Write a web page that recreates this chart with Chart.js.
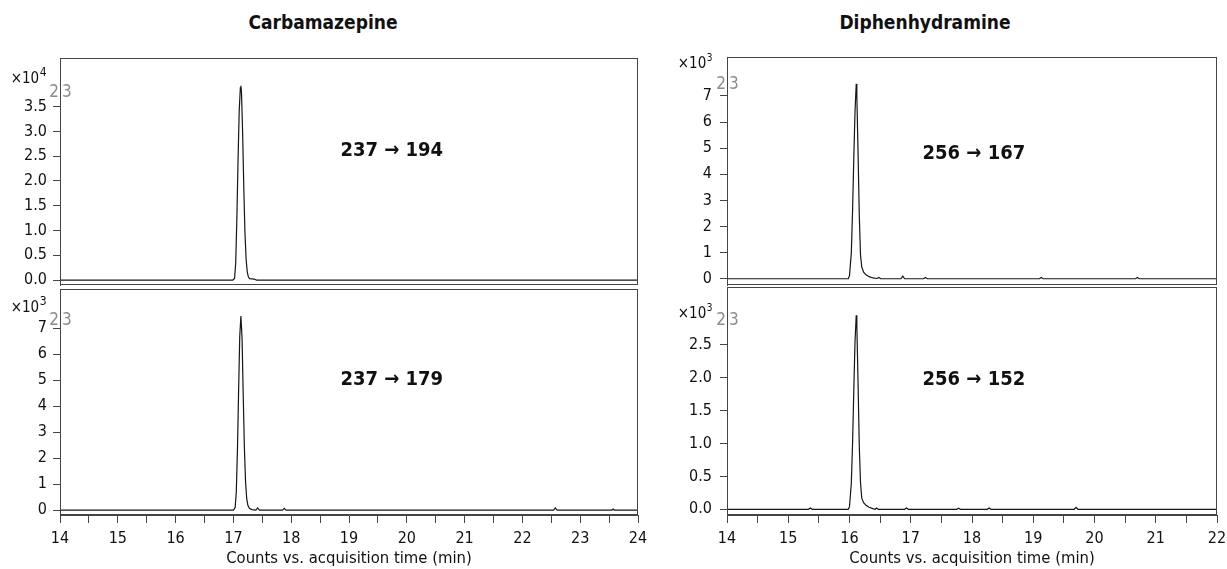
<!DOCTYPE html>
<html>
<head>
<meta charset="utf-8">
<title>MRM chromatograms</title>
<script src="https://cdn.jsdelivr.net/npm/chart.js@4.4.1/dist/chart.umd.min.js"></script>
<style>
  html, body { margin: 0; padding: 0; background: #fff; }
  body { position: relative; width: 1227px; height: 569px; overflow: hidden; }
  canvas { position: absolute; left: 0; top: 0; }
  .title {
    position: absolute; top: 11px; transform: translateX(-50%);
    font: bold 19px 'Liberation Sans Narrow', 'DejaVu Sans Condensed', sans-serif;
    color: #111; white-space: nowrap;
  }
</style>
</head>
<body>
<div class="title" style="left:323px">Carbamazepine</div>
<div class="title" style="left:925px">Diphenhydramine</div>
<canvas id="c1" width="1227" height="569"></canvas>
<canvas id="c2" width="1227" height="569"></canvas>
<canvas id="c3" width="1227" height="569"></canvas>
<canvas id="c4" width="1227" height="569"></canvas>
<script>
// ---- data -------------------------------------------------------------
// Carbamazepine, transition 237 -> 194 (counts x10^4)
const carba194Time   = [14, 16.99, 17.02, 17.04, 17.06, 17.08, 17.10, 17.12, 17.13, 17.14, 17.16, 17.18, 17.20, 17.22, 17.24, 17.26, 17.28, 17.32, 17.36, 17.40, 24];
const carba194Counts = [0, 0, 0.03, 0.35, 1.25, 2.4, 3.4, 3.88, 3.92, 3.78, 2.95, 1.85, 0.95, 0.42, 0.16, 0.06, 0.03, 0.025, 0.02, 0, 0];

// Carbamazepine, transition 237 -> 179 (counts x10^3)
const carba179Time   = [14, 17.0, 17.03, 17.05, 17.07, 17.09, 17.11, 17.13, 17.15, 17.17, 17.19, 17.21, 17.23, 17.25, 17.28, 17.32, 17.39, 17.42, 17.45, 17.85, 17.88, 17.91, 22.54, 22.57, 22.60, 23.55, 23.57, 23.59, 24];
const carba179Counts = [0, 0, 0.1, 0.7, 2.3, 4.6, 6.7, 7.47, 6.6, 4.4, 2.4, 1.1, 0.45, 0.18, 0.06, 0.02, 0, 0.08, 0, 0, 0.07, 0, 0, 0.08, 0, 0, 0.04, 0, 0];

// Diphenhydramine, transition 256 -> 167 (counts x10^3)
const diphen167Time   = [14, 15.98, 16.00, 16.03, 16.05, 16.07, 16.09, 16.11, 16.12, 16.14, 16.16, 16.18, 16.20, 16.23, 16.27, 16.32, 16.38, 16.45, 16.48, 16.51, 16.84, 16.87, 16.90, 17.21, 17.24, 17.27, 19.10, 19.13, 19.16, 20.67, 20.70, 20.73, 22];
const diphen167Counts = [0, 0, 0.12, 1.0, 2.6, 4.6, 6.4, 7.46, 7.0, 4.8, 2.4, 0.9, 0.45, 0.25, 0.15, 0.08, 0.03, 0.01, 0.05, 0, 0, 0.1, 0, 0, 0.05, 0, 0, 0.05, 0, 0, 0.05, 0, 0];

// Diphenhydramine, transition 256 -> 152 (counts x10^3)
const diphen152Time   = [14, 15.33, 15.36, 15.39, 15.98, 16.00, 16.03, 16.05, 16.07, 16.09, 16.11, 16.12, 16.14, 16.16, 16.18, 16.20, 16.23, 16.27, 16.32, 16.38, 16.42, 16.44, 16.47, 16.90, 16.93, 16.96, 17.75, 17.78, 17.81, 18.25, 18.28, 18.31, 19.67, 19.70, 19.73, 22];
const diphen152Counts = [0, 0, 0.02, 0, 0, 0.04, 0.4, 1.0, 1.8, 2.55, 2.95, 2.8, 1.9, 0.95, 0.4, 0.17, 0.1, 0.06, 0.03, 0.01, 0, 0.02, 0, 0, 0.02, 0, 0, 0.015, 0, 0, 0.02, 0, 0, 0.03, 0, 0];

// ---- tick labels ------------------------------------------------------
const carbaXTicks  = [14, 14.5, 15, 15.5, 16, 16.5, 17, 17.5, 18, 18.5, 19, 19.5, 20, 20.5, 21, 21.5, 22, 22.5, 23, 23.5, 24];
const diphenXTicks = [14, 14.5, 15, 15.5, 16, 16.5, 17, 17.5, 18, 18.5, 19, 19.5, 20, 20.5, 21, 21.5, 22];
const carba194YTicks  = [0, 0.5, 1, 1.5, 2, 2.5, 3, 3.5];
const carba179YTicks  = [0, 1, 2, 3, 4, 5, 6, 7];
const diphen167YTicks = [0, 1, 2, 3, 4, 5, 6, 7];
const diphen152YTicks = [0, 0.5, 1, 1.5, 2, 2.5];

const X_TITLE = 'Counts vs. acquisition time (min)';
const FONT = "'Liberation Sans Narrow', 'DejaVu Sans Condensed', sans-serif";
const INK = '#111';
const FRAME = '#444';

// ---- per-panel decorations: frame, exponent, marker, transition --------
const panelDecor = {
  id: 'panelDecor',
  afterDraw(chart, args, o) {
    const { ctx, chartArea: a, scales: { x, y } } = chart;
    ctx.save();
    // plot frame
    ctx.strokeStyle = FRAME;
    ctx.lineWidth = 1;
    const L = Math.round(a.left) + 0.5, T = Math.round(a.top) + 0.5;
    const R = Math.round(a.right) - 0.5, B = Math.round(a.bottom) - 0.5;
    ctx.strokeRect(L, T, R - L, B - T);

    // exponent label "×10^n"
    ctx.fillStyle = INK;
    ctx.textBaseline = 'alphabetic';
    ctx.font = `15px ${FONT}`;
    const base = '\u00d710';
    const w1 = ctx.measureText(base).width;
    ctx.font = `${o.supSize}px ${FONT}`;
    const w2 = ctx.measureText(o.exponent).width;
    const x0 = a.left - o.expGap - w1 - w2;
    const by = a.top + o.expDy;
    ctx.font = `15px ${FONT}`;
    ctx.textAlign = 'left';
    ctx.fillText(base, x0, by);
    ctx.font = `${o.supSize}px ${FONT}`;
    ctx.fillText(o.exponent, x0 + w1 + 0.5, by - 7);

    // grey marker straddling the y axis
    ctx.fillStyle = '#8c8c8c';
    ctx.font = `17px ${FONT}`;
    ctx.textBaseline = 'middle';
    ctx.textAlign = 'right';
    ctx.fillText('2', a.left - 1, a.top + o.markDy);
    ctx.textAlign = 'left';
    ctx.fillText('3', a.left + 2, a.top + o.markDy);

    // transition label
    ctx.fillStyle = INK;
    ctx.font = `bold 20px ${FONT}`;
    ctx.textAlign = 'center';
    ctx.fillText(o.transition, x.getPixelForValue(o.labelAt[0]), y.getPixelForValue(o.labelAt[1]));
    ctx.restore();
  }
};

function makePanel(id, p) {
  const points = p.time.map((t, i) => ({ x: t, y: p.counts[i] }));
  return new Chart(document.getElementById(id), {
    type: 'line',
    data: { datasets: [{
      data: points, borderColor: '#161616', borderWidth: 1.2,
      pointRadius: 0, tension: 0, fill: false
    }] },
    options: {
      responsive: false, animation: false, devicePixelRatio: 1,
      layout: { padding: p.pad },
      plugins: {
        legend: { display: false }, tooltip: { enabled: false },
        panelDecor: p.decor
      },
      scales: {
        x: {
          type: 'linear', min: p.xTicks[0], max: p.xTicks[p.xTicks.length - 1],
          display: p.showX,
          afterBuildTicks: s => { s.ticks = p.xTicks.map(v => ({ value: v })); },
          afterFit: s => {
            if (p.showX) { s.height = 54; }
            s.paddingLeft = 0; s.paddingRight = 0;
          },
          ticks: {
            autoSkip: false, maxRotation: 0, padding: 6, color: INK,
            font: { family: FONT, size: 16 },
            callback: v => Number.isInteger(v) ? String(v) : ''
          },
          grid: { drawOnChartArea: false, drawTicks: true, tickLength: 8, color: FRAME },
          border: { display: true, color: FRAME },
          title: {
            display: true, text: X_TITLE, color: INK,
            font: { family: FONT, size: 16.5 }, padding: { top: 0, bottom: 0 }
          }
        },
        y: {
          min: p.yMin, max: p.yMax,
          afterBuildTicks: s => { s.ticks = p.yTicks.map(v => ({ value: v })); },
          afterFit: s => { s.width = p.yWidth; s.paddingTop = 0; s.paddingBottom = 0; },
          ticks: {
            padding: p.yPad, color: INK,
            font: { family: FONT, size: 16 },
            callback: v => v.toFixed(p.decimals)
          },
          grid: { drawOnChartArea: false, drawTicks: true, tickLength: 7, color: FRAME },
          border: { display: true, color: FRAME }
        }
      }
    },
    plugins: [panelDecor]
  });
}

// Carbamazepine, upper trace
makePanel('c1', {
  time: carba194Time, counts: carba194Counts, xTicks: carbaXTicks, yTicks: carba194YTicks,
  yMin: -0.1, yMax: 4.48, decimals: 1, showX: false, yWidth: 60, yPad: 6,
  pad: { left: 0, top: 58, right: 1227 - 638, bottom: 569 - 285 },
  decor: { exponent: '4', supSize: 12, expGap: 14, expDy: 25, markDy: 35, transition: '237 \u2192 194', labelAt: [19.74, 2.6] }
});
// Carbamazepine, lower trace
makePanel('c2', {
  time: carba179Time, counts: carba179Counts, xTicks: carbaXTicks, yTicks: carba179YTicks,
  yMin: -0.19, yMax: 8.51, decimals: 0, showX: true, yWidth: 60, yPad: 6,
  pad: { left: 0, top: 289, right: 1227 - 638, bottom: 0 },
  decor: { exponent: '3', supSize: 12, expGap: 14, expDy: 23, markDy: 32, transition: '237 \u2192 179', labelAt: [19.74, 5.0] }
});
// Diphenhydramine, upper trace
makePanel('c3', {
  time: diphen167Time, counts: diphen167Counts, xTicks: diphenXTicks, yTicks: diphen167YTicks,
  yMin: -0.24, yMax: 8.49, decimals: 0, showX: false, yWidth: 60, yPad: 8,
  pad: { left: 727 - 60, top: 57, right: 1227 - 1217, bottom: 569 - 285 },
  decor: { exponent: '3', supSize: 10, expGap: 15, expDy: 11, markDy: 28, transition: '256 \u2192 167', labelAt: [18.03, 4.8] }
});
// Diphenhydramine, lower trace
makePanel('c4', {
  time: diphen152Time, counts: diphen152Counts, xTicks: diphenXTicks, yTicks: diphen152YTicks,
  yMin: -0.087, yMax: 3.38, decimals: 1, showX: true, yWidth: 60, yPad: 8,
  pad: { left: 727 - 60, top: 287, right: 1227 - 1217, bottom: 0 },
  decor: { exponent: '3', supSize: 10, expGap: 15, expDy: 31, markDy: 34, transition: '256 \u2192 152', labelAt: [18.03, 1.97] }
});
</script>
</body>
</html>
